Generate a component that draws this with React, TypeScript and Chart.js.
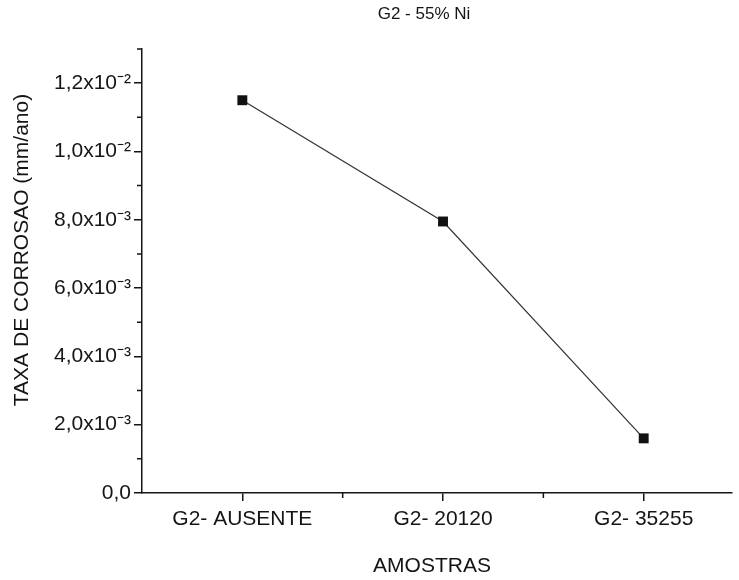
import React, { useEffect, useRef } from "react";
import { Chart, registerables } from "chart.js";

Chart.register(...registerables);

const categories = ["G2- AUSENTE", "G2- 20120", "G2- 35255"];
const corrosionRate = [1.15e-2, 7.95e-3, 1.6e-3];
const yMajorTicks = [0, 2e-3, 4e-3, 6e-3, 8e-3, 1.0e-2, 1.2e-2];
const yTickLabels = ["0,0", "2,0x10⁻³", "4,0x10⁻³", "6,0x10⁻³", "8,0x10⁻³", "1,0x10⁻²", "1,2x10⁻²"];
const yMinorTicks = [1e-3, 3e-3, 5e-3, 7e-3, 9e-3, 1.1e-2, 1.3e-2];
const xMinorTicks = [0.5, 1.5];
const chartTitle = "G2 - 55% Ni";
const xTitle = "AMOSTRAS";
const yTitle = "TAXA DE CORROSAO (mm/ano)";

const INK = "#151515";
const FONT = "'Liberation Sans', Arial, sans-serif";

const decorPlugin = {
  id: "decor",
  afterDraw(chart: any) {
    const ctx = chart.ctx;
    const xs = chart.scales.x;
    const ys = chart.scales.y;
    const area = chart.chartArea;
    ctx.save();
    ctx.strokeStyle = INK;
    ctx.lineWidth = 1.5;
    ctx.beginPath();
    for (const v of yMinorTicks) {
      const p = ys.getPixelForValue(v);
      ctx.moveTo(area.left - 5, p);
      ctx.lineTo(area.left, p);
    }
    for (const v of xMinorTicks) {
      const p = xs.getPixelForValue(v);
      ctx.moveTo(p, area.bottom);
      ctx.lineTo(p, area.bottom + 5);
    }
    ctx.stroke();
    ctx.fillStyle = INK;
    ctx.textAlign = "center";
    ctx.textBaseline = "middle";
    ctx.font = `17px ${FONT}`;
    ctx.fillText(chartTitle, 424, 14);
    ctx.font = `21px ${FONT}`;
    ctx.fillText(xTitle, 432, 566);
    ctx.translate(22, 250);
    ctx.rotate(-Math.PI / 2);
    ctx.fillText(yTitle, 0, 0);
    ctx.restore();
  },
};

export default function App() {
  const ref = useRef<HTMLCanvasElement | null>(null);
  useEffect(() => {
    if (!ref.current) return;
    const chart = new Chart(ref.current, {
      type: "line",
      data: {
        datasets: [
          {
            data: corrosionRate.map((v, i) => ({ x: i, y: v })),
            borderColor: "#333",
            borderWidth: 1.2,
            pointStyle: "rect",
            pointRadius: 7,
            pointBackgroundColor: "#111",
            pointBorderColor: "#111",
            pointBorderWidth: 0,
            tension: 0,
            fill: false,
          },
        ],
      },
      options: {
        animation: false,
        responsive: false,
        maintainAspectRatio: false,
        layout: { padding: { top: 49, left: 0, right: 0, bottom: 0 } },
        plugins: { legend: { display: false }, tooltip: { enabled: false }, title: { display: false } },
        scales: {
          x: {
            type: "linear",
            min: -0.5,
            max: 2.44,
            afterBuildTicks: (s: any) => {
              s.ticks = categories.map((_, i) => ({ value: i }));
            },
            afterFit: (s: any) => {
              s.height = 87;
            },
            ticks: {
              callback: (v: any) => categories[Math.round(Number(v))] ?? "",
              color: INK,
              font: { family: FONT, size: 21 },
              padding: 6,
              maxRotation: 0,
              autoSkip: false,
            },
            grid: { drawOnChartArea: false, drawTicks: true, tickLength: 8, color: INK, lineWidth: 1.5 },
            border: { color: INK, width: 1.5 },
          },
          y: {
            type: "linear",
            min: 0,
            max: 1.3e-2,
            afterBuildTicks: (s: any) => {
              s.ticks = yMajorTicks.map((v) => ({ value: v }));
            },
            afterFit: (s: any) => {
              s.width = 142;
            },
            ticks: {
              callback: (v: any) => {
                const idx = yMajorTicks.findIndex((t) => Math.abs(t - Number(v)) < 1e-9);
                return idx >= 0 ? yTickLabels[idx] : "";
              },
              color: INK,
              font: { family: FONT, size: 21 },
              padding: 3,
              autoSkip: false,
            },
            grid: { drawOnChartArea: false, drawTicks: true, tickLength: 8, color: INK, lineWidth: 1.5 },
            border: { color: INK, width: 1.5 },
          },
        },
      },
      plugins: [decorPlugin],
    });
    return () => chart.destroy();
  }, []);
  return (
    <div style={{ position: "absolute", left: 0, top: 0, width: 739, height: 580, background: "#fff" }}>
      <canvas ref={ref} width={739} height={580} style={{ width: 739, height: 580, display: "block" }} />
    </div>
  );
}
